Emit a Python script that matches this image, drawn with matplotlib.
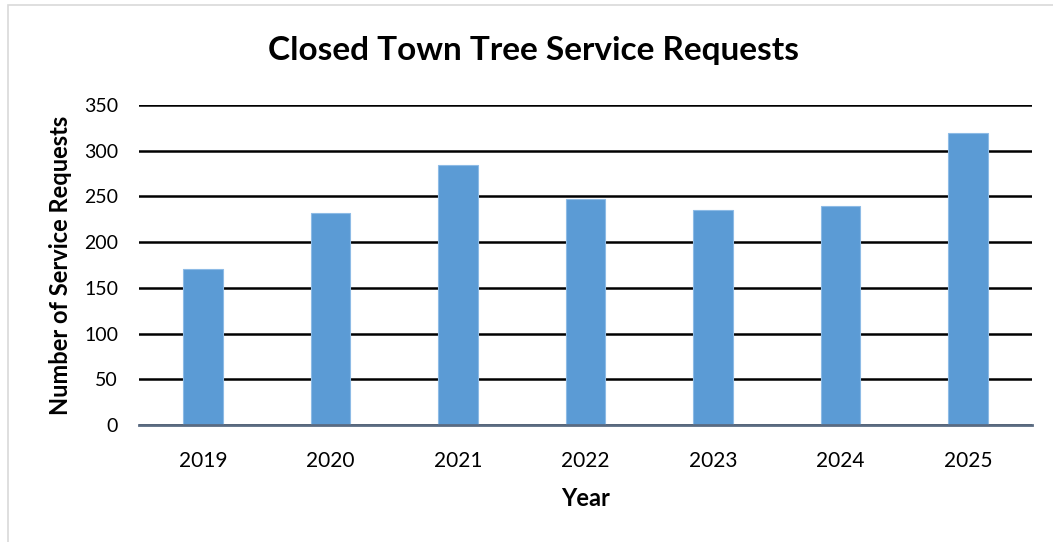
import matplotlib
matplotlib.use("Agg")
import matplotlib.pyplot as plt
from matplotlib.patches import Rectangle

years = ["2019", "2020", "2021", "2022", "2023", "2024", "2025"]
requests = [171, 232, 284, 247, 235, 240, 319]
yticks = [0, 50, 100, 150, 200, 250, 300, 350]

plt.rcParams['font.family'] = ['Lato', 'DejaVu Sans']

fig = plt.figure(figsize=(10.53, 5.42), dpi=100)
fig.patch.set_facecolor('white')
# outer chart border
fig.patches.append(Rectangle((8/1053, -0.1), 1.2, (542-5)/542 + 0.1, transform=fig.transFigure,
                             fill=False, edgecolor='#d9d9d9', linewidth=1.2))

ax = fig.add_axes([139/1053, 117/542, (1032-139)/1053, 320/542])
x = range(len(years))
ax.bar(x, requests, width=0.31, color='#5B9BD5', edgecolor='#8dbbe6', linewidth=0.8, zorder=3)
ax.set_xlim(-0.5, len(years) - 0.5)
ax.set_ylim(0, 350)
ax.set_yticks(yticks)
ax.set_yticklabels([str(v) for v in yticks], fontsize=14)
ax.set_xticks(list(x))
ax.set_xticklabels(years, fontsize=15)
ax.tick_params(axis='both', length=0)
ax.tick_params(axis='x', pad=19)
ax.tick_params(axis='y', pad=15)
ax.grid(axis='y', color='black', linewidth=1.8, zorder=0)
ax.set_axisbelow(True)
for s in ['top', 'right', 'left']:
    ax.spines[s].set_visible(False)
ax.spines['bottom'].set_color('#5a6b82')
ax.spines['bottom'].set_linewidth(2)
ax.spines['bottom'].set_zorder(4)

ax.set_xlabel("Year", fontsize=17, fontweight='bold', labelpad=11)
ax.set_ylabel("Number of Service Requests", fontsize=17, fontweight='bold', labelpad=9)
fig.text(534/1053, 1 - 51/542, "Closed Town Tree Service Requests", ha='center', va='center',
         fontsize=24, fontweight='bold')

fig.savefig("out.png", dpi=100)
